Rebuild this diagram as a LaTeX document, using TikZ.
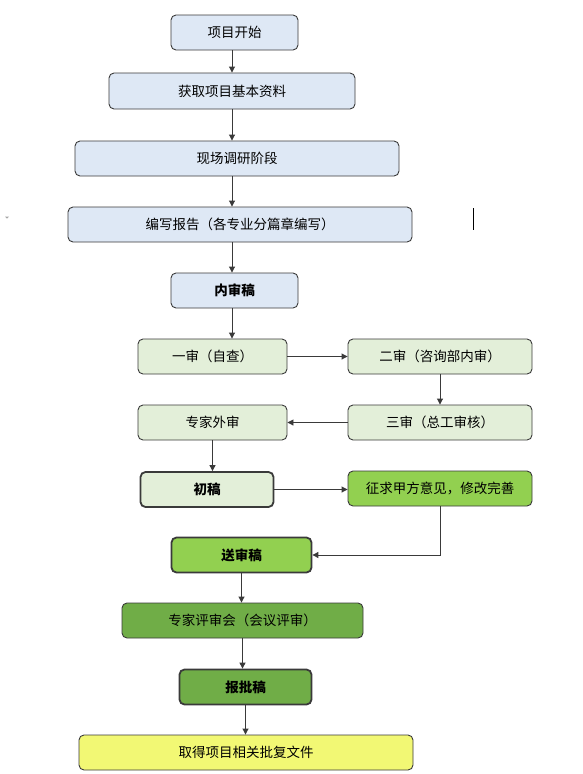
\documentclass[tikz,border=0pt]{standalone}
\usepackage{fontspec}
\setmainfont{Noto Sans CJK SC}
\usetikzlibrary{arrows.meta}
\definecolor{lblue}{HTML}{DEE8F5}
\definecolor{lgreen}{HTML}{E3EFD9}
\definecolor{mgreen}{HTML}{92D050}
\definecolor{dgreen}{HTML}{70AD47}
\definecolor{lyellow}{HTML}{F2F874}
\definecolor{edge}{HTML}{3A3A3A}
\tikzset{
  box/.style={draw=edge, line width=0.9pt, rounded corners=5pt, inner sep=0pt,
    font=\fontsize{13.5}{15}\selectfont, text=black},
  boldbox/.style={box, line width=1.8pt, font=\fontsize{13.5}{15}\selectfont\bfseries},
  conn/.style={draw=edge, line width=0.9pt, -{Triangle[length=6pt,width=6pt]}},
}
\newcommand{\bx}[7]{\node[#1, fill=#2, minimum width=#5pt, minimum height=#6pt] (#7) at (#3,#4) {};}
\begin{document}
\begin{tikzpicture}[x=1pt,y=-1pt]
\useasboundingbox (0,0) rectangle (582,774);
% nodes
\node[box, fill=lblue, minimum width=127pt, minimum height=35pt] (a1) at (234.5,32.5) {项目开始};
\node[box, fill=lblue, minimum width=246pt, minimum height=36pt] (a2) at (232,91) {获取项目基本资料};
\node[box, fill=lblue, minimum width=324pt, minimum height=35pt] (a3) at (237,158.5) {现场调研阶段};
\node[box, fill=lblue, minimum width=344pt, minimum height=35pt] (a4) at (240,224.5) {编写报告（各专业分篇章编写）};
\node[box, fill=lblue, minimum width=127pt, minimum height=35pt, font=\fontsize{13.5}{15}\selectfont\bfseries] (a5) at (234.5,290.5) {内审稿};
\node[box, fill=lgreen, minimum width=149pt, minimum height=35pt] (b1) at (212.5,356.5) {一审（自查）};
\node[box, fill=lgreen, minimum width=184pt, minimum height=35pt] (c1) at (440,356.5) {二审（咨询部内审）};
\node[box, fill=lgreen, minimum width=184pt, minimum height=35pt] (c2) at (440,422.5) {三审（总工审核）};
\node[box, fill=lgreen, minimum width=149pt, minimum height=35pt] (b2) at (212.5,422.5) {专家外审};
\node[boldbox, fill=lgreen, minimum width=133pt, minimum height=35pt] (b3) at (207,489.5) {初稿};
\node[box, fill=mgreen, minimum width=184pt, minimum height=35pt] (d1) at (440,488.5) {征求甲方意见，修改完善};
\node[boldbox, fill=mgreen, minimum width=140pt, minimum height=35pt] (d2) at (241.5,555) {送审稿};
\node[box, fill=dgreen, minimum width=241pt, minimum height=35pt] (e1) at (242.5,620.5) {专家评审会（会议评审）};
\node[boldbox, fill=dgreen, minimum width=132pt, minimum height=35pt] (e2) at (245.5,687) {报批稿};
\node[box, fill=lyellow, minimum width=334pt, minimum height=35pt] (e3) at (246,752.5) {取得项目相关批复文件};
% connectors
\draw[conn] (a1.south -| a2.north) -- (a2.north);
\draw[conn] (a2.south) -- (a2.south |- a3.north);
\draw[conn] (a2.south |- a3.south) -- (a2.south |- a4.north);
\draw[conn] (a2.south |- a4.south) -- (a2.south |- a5.north);
\draw[conn] (a2.south |- a5.south) -- (a2.south |- b1.north);
\draw[conn] (b1.east) -- (c1.west);
\draw[conn] (c1.south) -- (c2.north);
\draw[conn] (c2.west) -- (b2.east);
\draw[conn] (b2.south) -- (b2.south |- b3.north);
\draw[conn] (b3.east) -- (b3.east -| d1.west);
\draw[conn] (d1.south) |- (d2.east);
\draw[conn] (d2.south) -- (d2.south |- e1.north);
\draw[conn] (e1.south) -- (e1.south |- e2.north);
\draw[conn] (e2.south) -- (e2.south |- e3.north);
% stray marks
\coordinate (m1) at (473,208);
\coordinate (m2) at (473,230);
\draw[line width=1pt, black] (m1) -- (m2);
\fill[gray!70] (5,216.5) -- (9,216.5) -- (7,218.5) -- cycle;
\end{tikzpicture}
\end{document}
